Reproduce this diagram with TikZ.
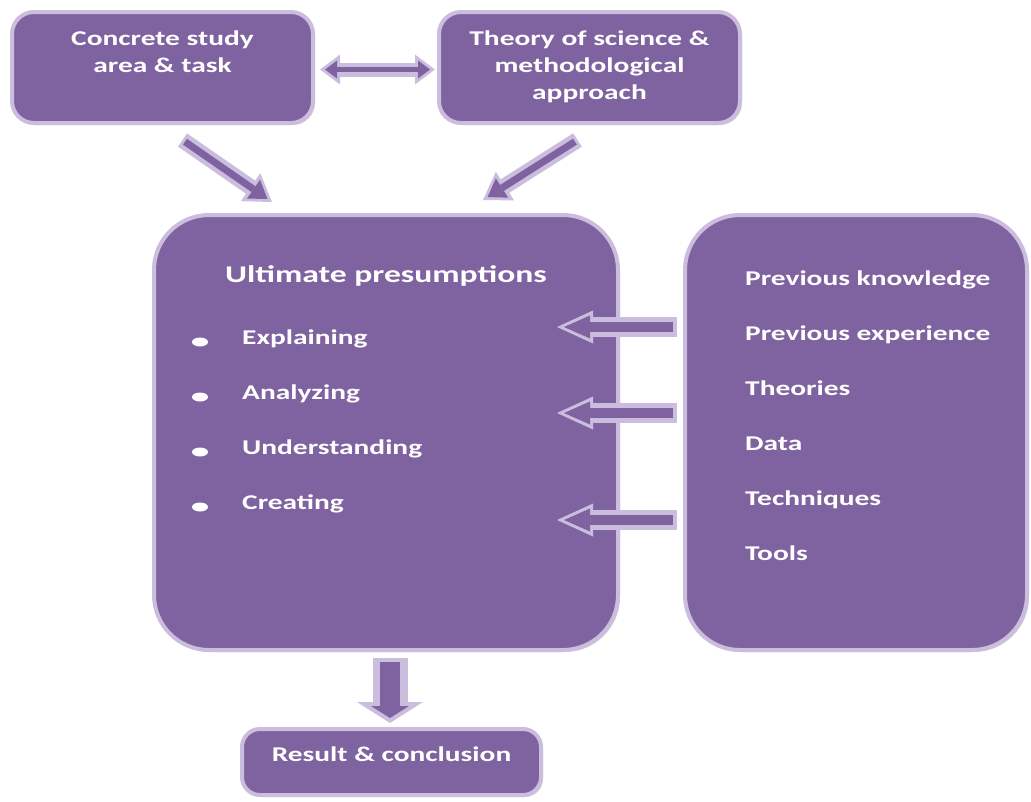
\documentclass[tikz,border=0pt]{standalone}
\usepackage{fontspec}
\setmainfont{Carlito}[FakeStretch=1.4]
\usetikzlibrary{positioning,arrows.meta,shadows}

\definecolor{boxpurple}{HTML}{7F62A0}
\definecolor{rimlilac}{HTML}{CBBDDD}

\tikzset{
  box/.style={draw=rimlilac,line width=4pt,fill=boxpurple,rounded corners=#1,
    drop shadow={shadow xshift=2pt,shadow yshift=-2pt,opacity=.35}},
  txt/.style={text=white,font=\bfseries\fontsize{21}{27}\selectfont,align=center},
  ttl/.style={text=white,font=\bfseries\fontsize{24}{28}\selectfont},
  item/.style={text=white,font=\bfseries\fontsize{21}{27}\selectfont,anchor=mid west},
  % fat arrows: lilac rim, purple core
  arrtwo/.style={draw=rimlilac,line width=14pt,
    {Triangle[length=20pt,width=30pt,line width=0pt]}-{Triangle[length=20pt,width=30pt,line width=0pt]},
    postaction={draw=boxpurple,line width=5pt,
      {Triangle[length=12pt,width=18pt,line width=0pt]}-{Triangle[length=12pt,width=18pt,line width=0pt]},
      shorten >=5pt,shorten <=5pt}},
  arrdiag/.style={draw=rimlilac,line width=16pt,-{Triangle[length=26pt,width=34pt,line width=0pt]},
    postaction={draw=boxpurple,line width=7pt,-{Triangle[length=17pt,width=23pt,line width=0pt]},
      shorten >=5.5pt,shorten <=3pt}},
  arrleft/.style={draw=rimlilac,line width=20pt,-{Triangle[length=36pt,width=33pt,line width=0pt]},
    postaction={draw=boxpurple,line width=10pt,-{Triangle[length=26pt,width=23pt,line width=0pt]},
      shorten >=7pt,shorten <=4pt}},
  arrdown/.style={draw=rimlilac,line width=35pt,-{Triangle[length=21pt,width=66pt,line width=0pt]},
    postaction={draw=boxpurple,line width=20pt,-{Triangle[length=12pt,width=38pt,line width=0pt]},
      shorten >=5pt,shorten <=4pt}},
}

\begin{document}
\begin{tikzpicture}[x=1pt,y=-1pt,inner sep=0pt]
  \useasboundingbox (0,0) rectangle (1031,801);

  % the boxes
  \node[box=22pt,minimum width=301pt,minimum height=111pt] (area) at (162.5,67.5) {};
  \node[box=22pt,minimum width=301pt,minimum height=111pt] (theory) at (589.5,67.5) {};
  \node[box=55pt,minimum width=464pt,minimum height=435pt] (main) at (386,432.5) {};
  \node[box=55pt,minimum width=342pt,minimum height=435pt] (info) at (856,432.5) {};
  \node[box=18pt,minimum width=299pt,minimum height=66pt] (result) at (391.5,762) {};

  % texts
  \node[txt,below=21pt of area.north] (areatxt) {Concrete study\\area \& task};
  \node[txt,below=21pt of theory.north] (theorytxt) {Theory of science \&\\methodological\\approach};
  \node[ttl,below=52pt of main.north] (maintxt) {Ultimate presumptions};
  \node[txt] (resulttxt) at (391.5,754) {Result \& conclusion};

  \foreach \lbl [count=\k] in {Explaining,Analyzing,Understanding,Creating} {
    \coordinate (dot\k) at (200,287+55*\k);
    \fill[white] (dot\k) ellipse [x radius=8pt,y radius=4.5pt];
    \node[item] (it\k) at (242,287+55*\k) {\lbl};
  }
  \foreach \lbl [count=\k] in {Previous knowledge,Previous experience,Theories,Data,Techniques,Tools} {
    \node[item] (src\k) at (745,228+55*\k) {\lbl};
  }

  % connectors
  \coordinate (in1) at (557,327);
  \coordinate (in2) at (557,413);
  \coordinate (in3) at (557,520);

  \draw[arrtwo] ([xshift=5pt,yshift=-2pt]area.east) -- ([xshift=-2pt,yshift=-2pt]theory.west);
  \draw[arrdiag] ([xshift=20pt,yshift=-15pt]area.south) -- ([xshift=-114pt,yshift=11pt]main.north);
  \draw[arrdiag] ([xshift=-12pt,yshift=-15pt]theory.south) -- ([xshift=97pt,yshift=13pt]main.north);
  \foreach \k in {1,2,3}
    \draw[arrleft] ([xshift=-6pt]info.west |- in\k) -- (in\k);
  \draw[arrdown] ([xshift=4pt,yshift=-6pt]main.south) -- ([xshift=4pt,yshift=4pt]main.south |- result.north);
\end{tikzpicture}
\end{document}
